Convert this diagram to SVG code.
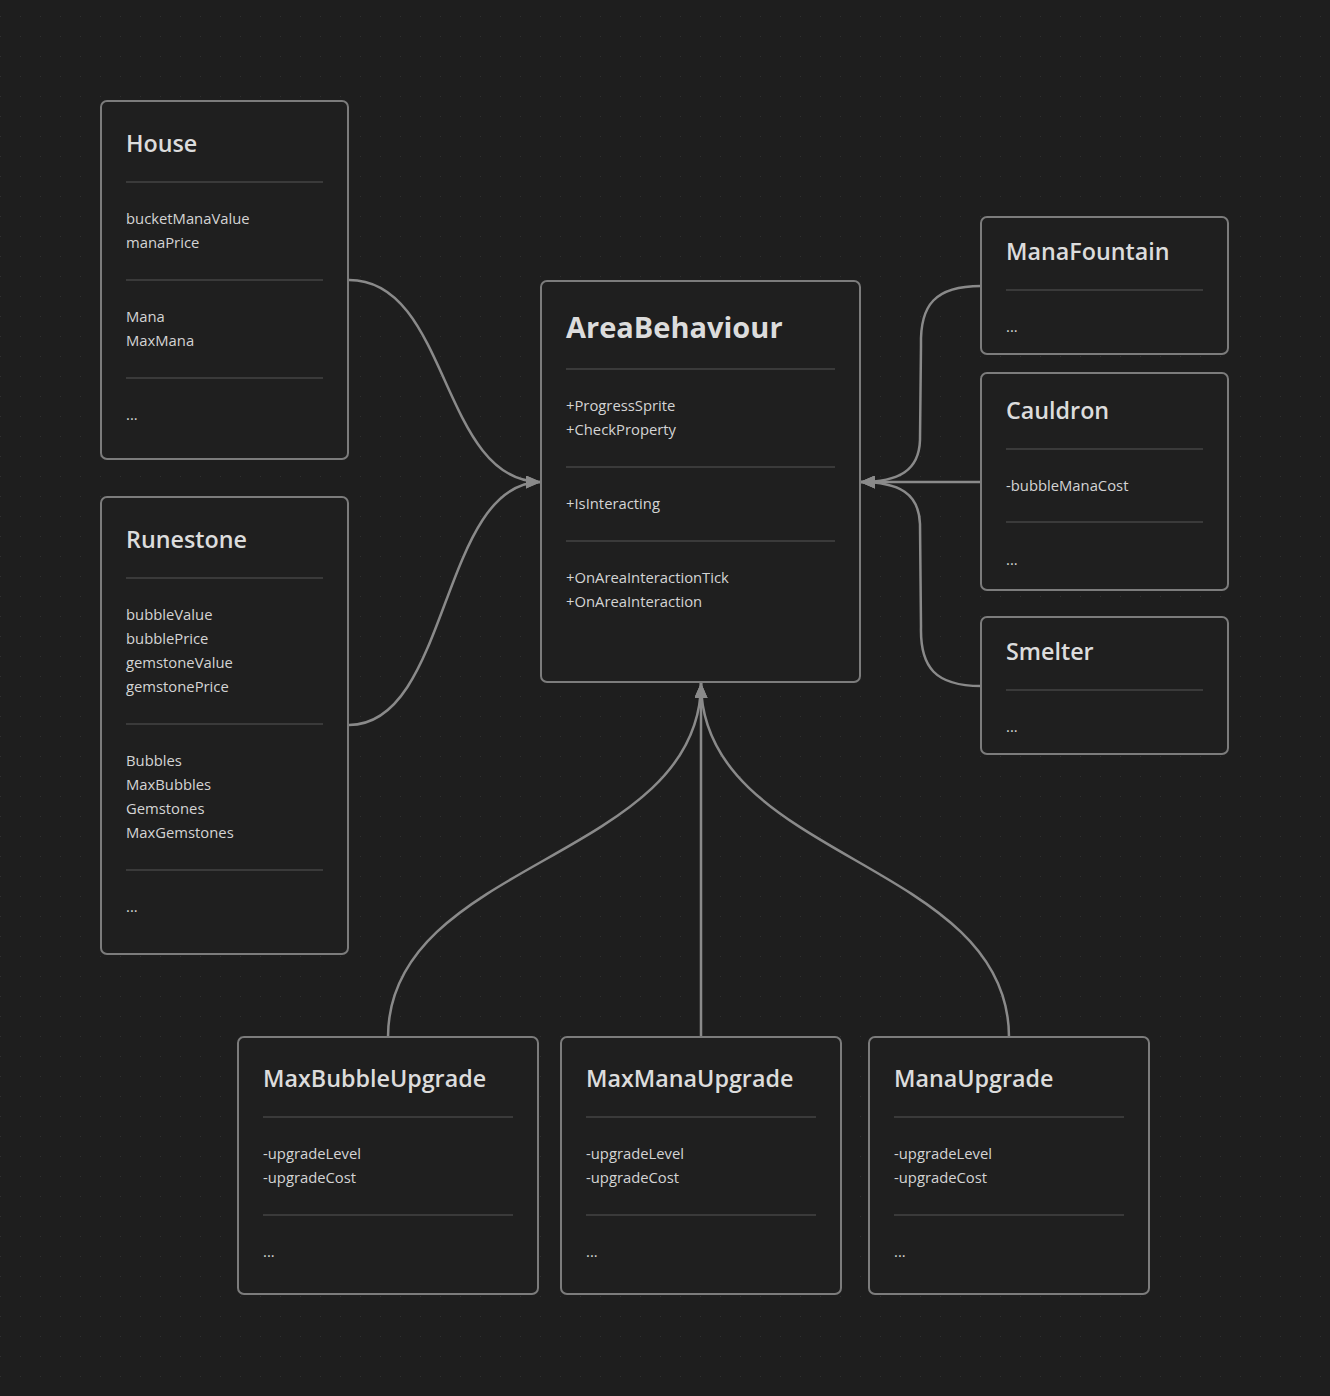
<svg xmlns="http://www.w3.org/2000/svg" width="1330" height="1396" viewBox="0 0 1330 1396">
<defs>
<pattern id="dots" x="0" y="16" width="20" height="20" patternUnits="userSpaceOnUse">
<rect x="-1" y="-1" width="2" height="2" fill="#303030"/>
</pattern>
<marker id="arr" viewBox="0 0 15 13" refX="15" refY="6.5" markerWidth="15" markerHeight="13" markerUnits="userSpaceOnUse" orient="auto">
<path d="M0,0 L15,6.5 L0,13 Z" fill="#8a8a8a"/>
</marker>
<style>
.box{fill:#1f1f1f;stroke:#7c7c7c;stroke-width:2}
.div{stroke:#3a3a3a;stroke-width:2}
.t{font-family:"Open Sans","Noto Sans",sans-serif;font-weight:600;font-size:23.3px;fill:#dcdcdc}
.tb{font-family:"Open Sans","Noto Sans",sans-serif;font-weight:700;font-size:29px;fill:#dcdcdc}
.f{font-family:"Open Sans","Noto Sans",sans-serif;font-size:14.8px;fill:#d4d4d4}
.c{fill:none;stroke:#8a8a8a;stroke-width:2.5}
</style>
</defs>
<rect width="1330" height="1396" fill="#1e1e1e"/>
<rect width="1330" height="1396" fill="url(#dots)"/>

<g id="connectors">
<path class="c" d="M349,280 C450,280 440,482 541,482" marker-end="url(#arr)"/>
<path class="c" d="M349,725 C450,725 440,482 541,482" marker-end="url(#arr)"/>
<path class="c" d="M981,286 C935,286 920,305 921,345 L920,440 C919,470 900,482 860,482" marker-end="url(#arr)"/>
<path class="c" d="M981,482 L860,482" marker-end="url(#arr)"/>
<path class="c" d="M981,686 C935,686 920,667 921,627 L920,524 C919,494 900,482 860,482" marker-end="url(#arr)"/>
<path class="c" d="M388,1037 C388,860 701,860 701,683" marker-end="url(#arr)"/>
<path class="c" d="M701,1037 L701,683" marker-end="url(#arr)"/>
<path class="c" d="M1009,1037 C1009,860 701,860 701,683" marker-end="url(#arr)"/>
</g>

<g id="House">
<rect class="box" x="101" y="101" width="247" height="358" rx="6"/>
<text class="t" x="126" y="152">House</text>
<line class="div" x1="126" y1="182" x2="323" y2="182"/>
<text class="f" x="126" y="224">bucketManaValue</text>
<text class="f" x="126" y="248">manaPrice</text>
<line class="div" x1="126" y1="280" x2="323" y2="280"/>
<text class="f" x="126" y="322">Mana</text>
<text class="f" x="126" y="346">MaxMana</text>
<line class="div" x1="126" y1="378" x2="323" y2="378"/>
<text class="f" x="126" y="420">...</text>
</g>

<g id="Runestone">
<rect class="box" x="101" y="497" width="247" height="457" rx="6"/>
<text class="t" x="126" y="548">Runestone</text>
<line class="div" x1="126" y1="578" x2="323" y2="578"/>
<text class="f" x="126" y="620">bubbleValue</text>
<text class="f" x="126" y="644">bubblePrice</text>
<text class="f" x="126" y="668">gemstoneValue</text>
<text class="f" x="126" y="692">gemstonePrice</text>
<line class="div" x1="126" y1="724" x2="323" y2="724"/>
<text class="f" x="126" y="766">Bubbles</text>
<text class="f" x="126" y="790">MaxBubbles</text>
<text class="f" x="126" y="814">Gemstones</text>
<text class="f" x="126" y="838">MaxGemstones</text>
<line class="div" x1="126" y1="870" x2="323" y2="870"/>
<text class="f" x="126" y="912">...</text>
</g>

<g id="AreaBehaviour">
<rect class="box" x="541" y="281" width="319" height="401" rx="6"/>
<text class="tb" x="566" y="338">AreaBehaviour</text>
<line class="div" x1="566" y1="369" x2="835" y2="369"/>
<text class="f" x="566" y="411">+ProgressSprite</text>
<text class="f" x="566" y="435">+CheckProperty</text>
<line class="div" x1="566" y1="467" x2="835" y2="467"/>
<text class="f" x="566" y="509">+IsInteracting</text>
<line class="div" x1="566" y1="541" x2="835" y2="541"/>
<text class="f" x="566" y="583">+OnAreaInteractionTick</text>
<text class="f" x="566" y="607">+OnAreaInteraction</text>
</g>

<g id="ManaFountain">
<rect class="box" x="981" y="217" width="247" height="137" rx="6"/>
<text class="t" x="1006" y="260">ManaFountain</text>
<line class="div" x1="1006" y1="290" x2="1203" y2="290"/>
<text class="f" x="1006" y="332">...</text>
</g>

<g id="Cauldron">
<rect class="box" x="981" y="373" width="247" height="217" rx="6"/>
<text class="t" x="1006" y="419">Cauldron</text>
<line class="div" x1="1006" y1="449" x2="1203" y2="449"/>
<text class="f" x="1006" y="491">-bubbleManaCost</text>
<line class="div" x1="1006" y1="522" x2="1203" y2="522"/>
<text class="f" x="1006" y="565">...</text>
</g>

<g id="Smelter">
<rect class="box" x="981" y="617" width="247" height="137" rx="6"/>
<text class="t" x="1006" y="660">Smelter</text>
<line class="div" x1="1006" y1="690" x2="1203" y2="690"/>
<text class="f" x="1006" y="732">...</text>
</g>

<g id="MaxBubbleUpgrade">
<rect class="box" x="238" y="1037" width="300" height="257" rx="6"/>
<text class="t" x="263" y="1087">MaxBubbleUpgrade</text>
<line class="div" x1="263" y1="1117" x2="513" y2="1117"/>
<text class="f" x="263" y="1159">-upgradeLevel</text>
<text class="f" x="263" y="1183">-upgradeCost</text>
<line class="div" x1="263" y1="1215" x2="513" y2="1215"/>
<text class="f" x="263" y="1257">...</text>
</g>

<g id="MaxManaUpgrade">
<rect class="box" x="561" y="1037" width="280" height="257" rx="6"/>
<text class="t" x="586" y="1087">MaxManaUpgrade</text>
<line class="div" x1="586" y1="1117" x2="816" y2="1117"/>
<text class="f" x="586" y="1159">-upgradeLevel</text>
<text class="f" x="586" y="1183">-upgradeCost</text>
<line class="div" x1="586" y1="1215" x2="816" y2="1215"/>
<text class="f" x="586" y="1257">...</text>
</g>

<g id="ManaUpgrade">
<rect class="box" x="869" y="1037" width="280" height="257" rx="6"/>
<text class="t" x="894" y="1087">ManaUpgrade</text>
<line class="div" x1="894" y1="1117" x2="1124" y2="1117"/>
<text class="f" x="894" y="1159">-upgradeLevel</text>
<text class="f" x="894" y="1183">-upgradeCost</text>
<line class="div" x1="894" y1="1215" x2="1124" y2="1215"/>
<text class="f" x="894" y="1257">...</text>
</g>
</svg>
